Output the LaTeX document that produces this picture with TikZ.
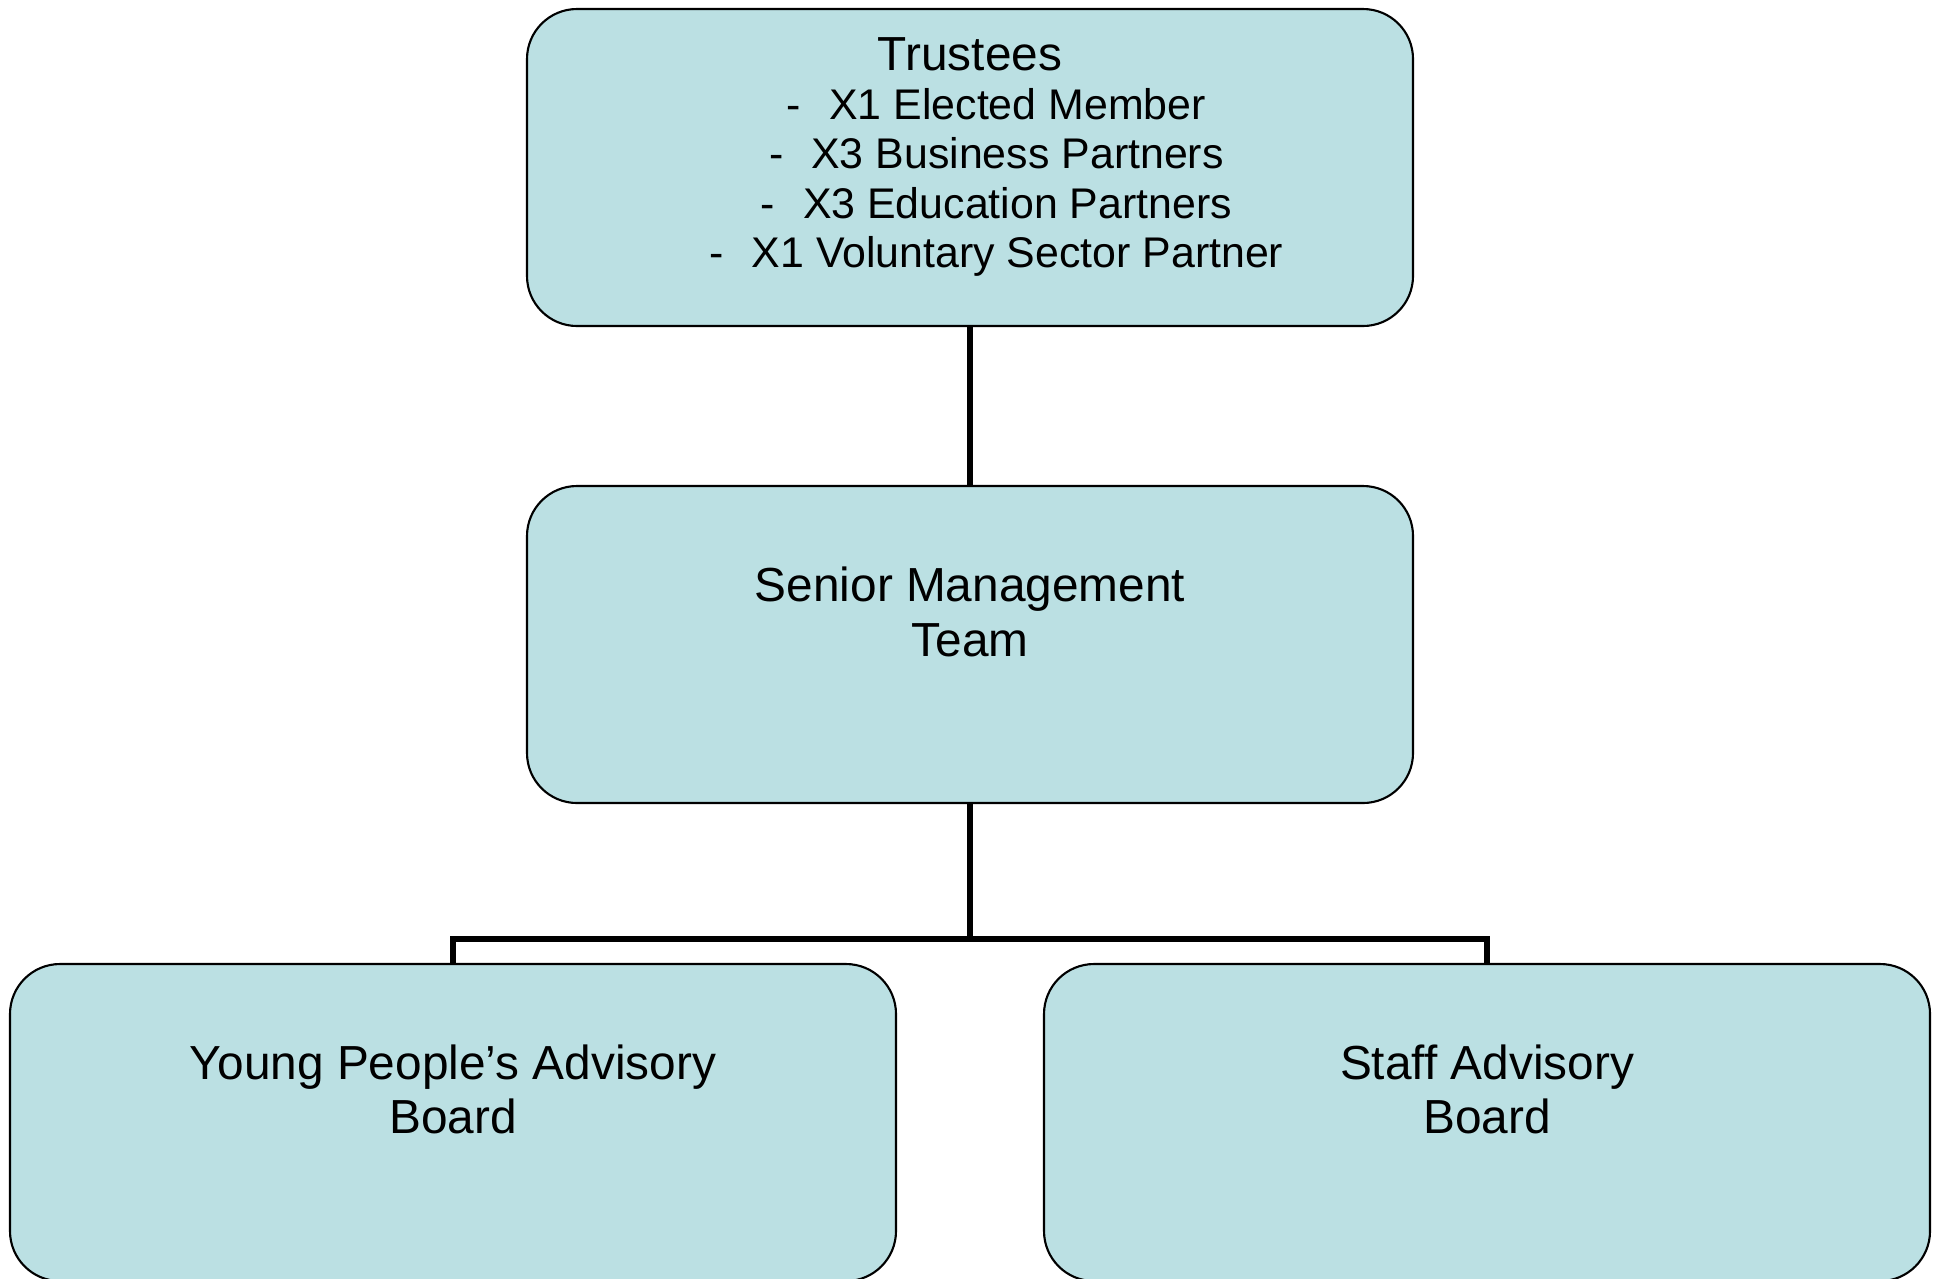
\documentclass[tikz,border=0pt]{standalone}
\usepackage{fontspec}
\setmainfont{Liberation Sans}
\usetikzlibrary{positioning}
\definecolor{boxfill}{HTML}{BBE0E3}
\newcommand{\member}[1]{\fontsize{12.2}{14}\selectfont\hspace*{15pt}-\hspace{8pt}#1}

\begin{document}
\begin{tikzpicture}[
		unit/.style={draw, line width=0.6pt, fill=boxfill, rounded corners=0.5cm,
			minimum width=8.86cm, minimum height=3.17cm, inner sep=0pt},
		caption/.style={align=center, inner sep=0pt, font=\fontsize{13.6}{15.6}\selectfont},
		link/.style={line width=1.9pt}]
			\useasboundingbox (0, 0) rectangle (19.35, -12.78);
			% the four boxes
			\node [unit] (trustees) at (9.70, -1.675) {};
			\node [unit] (smt) at (9.70, -6.445) {};
			\node [unit] (ypab) at (4.53, -11.225) {};
			\node [unit] (sab) at (14.87, -11.225) {};
			% their texts
			\node [caption, font=\fontsize{12.2}{14}\selectfont] (trusteestext) at ([yshift=-1.49cm]trustees.north)
				{\fontsize{13.6}{14}\selectfont Trustees\\
				\member{X1 Elected Member}\\
				\member{X3 Business Partners}\\
				\member{X3 Education Partners}\\
				\member{X1 Voluntary Sector Partner}};
			\node [caption] (smttext) at ([yshift=-1.27cm]smt.north) {Senior Management\\Team};
			\node [caption] (ypabtext) at ([yshift=-1.265cm]ypab.north) {Young People’s Advisory\\Board};
			\node [caption] (sabtext) at ([yshift=-1.265cm]sab.north) {Staff Advisory\\Board};
			% connectors
			\coordinate (split) at (9.70, -9.39);
			\draw [link] (trustees) -- (smt);
			\draw [link] (smt) -- (split);
			\draw [link] (ypab.north) |- (split) -| (sab.north);
		\end{tikzpicture}
\end{document}
